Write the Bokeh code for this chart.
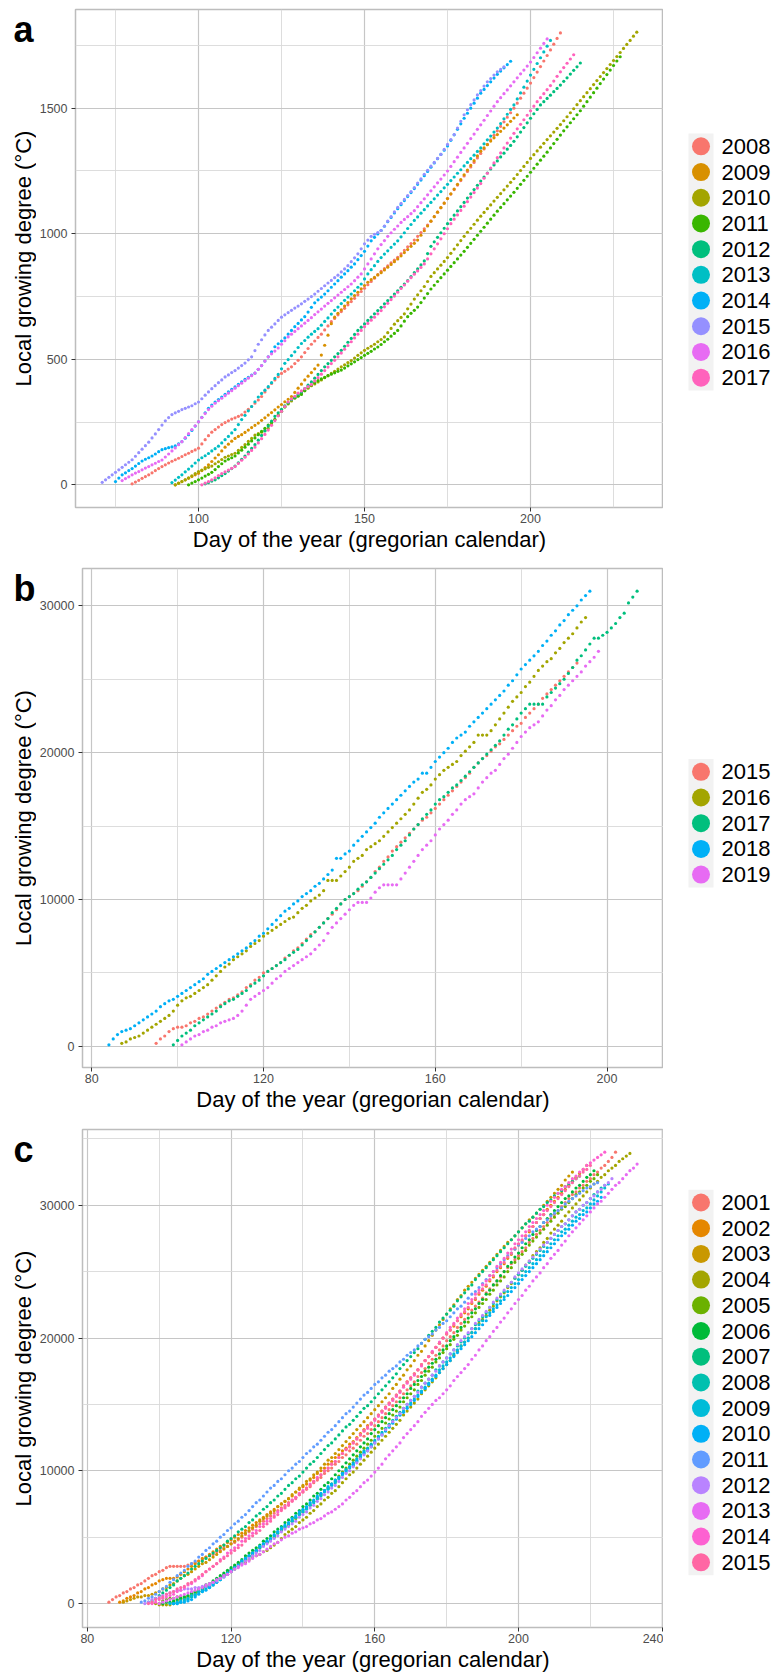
from bokeh.plotting import figure
from bokeh.layouts import row, column
from bokeh.models import Range1d, FixedTicker, BasicTickFormatter
from bokeh.core.properties import value
from bokeh.embed import file_html
from bokeh.resources import INLINE
import math

FONT = "Liberation Sans"

# ---------------- Panel a : daily cumulative GDD (degC), first day of each series ----------------
A_YEARS = ["2008", "2009", "2010", "2011", "2012", "2013", "2014", "2015", "2016", "2017"]
A_COLORS = ["#F8766D", "#D89000", "#A3A500", "#39B600", "#00BF7D", "#00BFC4", "#00B0F6", "#9590FF", "#E76BF3", "#FF62BC"]
A_STARTS = [80, 93, 93, 97, 102, 92, 75, 71, 77, 101]
A_2008 = [4,11,18,26,33,40,48,57,65,73,80,87,94,100,106,113,120,126,133,139,146,163,180,196,210,220,230,240,248,255,262,267,273,279,290,301,312,325,338,352,370,387,404,418,431,444,452,461,470,483,496,510,527,543,560,573,587,600,617,633,650,663,677,690,703,717,730,743,757,770,783,797,810,823,837,850,861,872,884,895,906,920,934,948,961,975,990,1005,1020,1035,1050,1068,1086,1104,1122,1140,1158,1176,1194,1212,1230,1248,1266,1284,1302,1320,1338,1356,1374,1392,1410,1428,1446,1464,1482,1500,1520,1540,1560,1580,1600,1622,1644,1666,1688,1710,1732,1755,1778,1800]
A_2009 = [0,7,13,20,26,33,40,46,57,69,80,93,107,120,135,150,162,174,185,193,200,209,218,228,237,246,257,267,278,288,299,310,320,331,341,352,368,385,401,418,433,447,462,477,517,556,596,642,668,683,697,712,726,741,754,767,781,794,807,817,826,836,845,856,867,878,889,900,912,925,937,950,962,975,994,1012,1031,1050,1068,1086,1104,1122,1140,1159,1178,1197,1216,1235,1254,1272,1291,1310,1329,1342,1355,1369,1382,1395,1408,1421,1434,1448,1461,1474]
A_2010 = [0,6,13,20,28,36,45,53,59,64,70,75,84,92,101,110,115,121,126,137,149,160,173,185,198,204,210,217,225,242,260,277,294,311,322,334,345,355,365,375,385,395,402,410,418,427,435,444,452,461,470,478,487,495,505,516,526,536,544,552,560,570,579,589,606,623,640,654,667,681,701,720,740,757,773,790,810,830,845,860,875,890,905,922,939,956,973,990,1006,1022,1038,1054,1070,1085,1100,1115,1130,1145,1160,1175,1190,1205,1220,1236,1252,1268,1284,1300,1315,1330,1345,1360,1375,1390,1405,1420,1435,1450,1466,1482,1498,1514,1530,1546,1562,1578,1594,1610,1626,1642,1658,1674,1690,1706,1722,1738,1754,1770,1787,1803]
A_2011 = [0,7,13,20,27,35,42,50,61,73,84,95,102,108,115,127,138,150,162,175,187,200,213,225,238,249,260,277,293,310,325,340,347,353,360,375,390,398,407,415,422,428,435,441,446,452,457,465,474,482,490,499,507,516,524,532,541,549,559,570,580,592,603,615,633,652,670,683,695,708,726,744,762,780,795,810,825,840,855,870,885,900,915,930,946,962,978,994,1010,1026,1042,1058,1074,1090,1105,1120,1135,1150,1165,1181,1197,1213,1229,1245,1261,1277,1293,1309,1325,1342,1359,1376,1393,1410,1426,1442,1458,1474,1490,1508,1526,1544,1562,1580,1598,1616,1634,1652,1670,1688,1705]
A_2012 = [4,9,15,20,28,37,45,55,65,75,88,102,115,130,145,160,178,197,215,234,254,273,287,301,315,327,339,349,360,370,383,397,410,425,440,455,470,483,496,510,523,536,552,568,583,599,615,628,641,655,668,681,694,707,721,734,747,760,773,787,800,813,829,845,860,876,892,921,950,968,986,1004,1022,1040,1057,1074,1091,1108,1125,1142,1159,1176,1193,1210,1226,1242,1258,1274,1290,1306,1321,1337,1352,1368,1386,1405,1423,1442,1460,1478,1495,1513,1526,1539,1552,1566,1579,1592,1607,1621,1636,1651,1665,1680]
A_2013 = [9,19,30,40,52,63,75,87,99,108,116,125,135,144,154,167,180,193,207,220,240,260,277,295,312,331,350,364,377,391,407,424,440,462,484,499,515,530,547,563,575,588,600,611,622,636,651,665,680,695,708,722,735,748,760,773,787,800,820,840,857,873,890,905,919,932,946,959,972,988,1004,1021,1037,1053,1067,1082,1096,1111,1125,1139,1154,1168,1183,1197,1212,1226,1241,1255,1270,1284,1299,1313,1328,1342,1358,1374,1389,1405,1421,1439,1458,1476,1495,1513,1537,1561,1584,1608,1632,1655,1678,1701,1724,1747,1770]
A_2014 = [13,27,40,48,57,65,75,85,95,102,108,115,123,132,140,144,148,151,155,163,172,186,200,217,234,251,269,287,305,318,330,340,350,360,370,380,390,400,410,420,428,437,445,460,475,493,510,530,550,562,573,585,600,615,630,643,657,670,688,707,725,737,748,760,773,787,800,813,827,840,853,867,880,897,913,930,951,972,986,999,1013,1030,1048,1065,1083,1100,1116,1132,1148,1164,1180,1197,1214,1231,1248,1265,1282,1299,1316,1333,1350,1372,1394,1416,1438,1460,1480,1500,1520,1540,1560,1575,1590,1605,1620,1635,1648,1661,1674,1687]
A_2015 = [10,20,30,40,50,60,70,80,90,100,114,128,142,156,170,187,203,220,238,255,268,280,287,293,300,305,310,315,323,330,343,357,370,383,395,407,418,430,438,447,455,465,475,485,498,510,535,560,578,597,615,628,641,655,668,677,686,695,704,712,721,731,740,750,760,771,782,793,804,814,825,835,848,860,873,889,904,920,940,960,975,990,998,1005,1013,1031,1050,1068,1087,1105,1121,1137,1152,1168,1184,1202,1219,1237,1253,1269,1284,1300,1316,1336,1356,1375,1395,1421,1448,1474,1494,1514,1533,1553,1570,1588,1605,1618,1632,1645,1655,1665]
A_2016 = [17,25,32,40,47,53,60,67,73,80,86,93,99,111,123,135,147,160,172,188,204,220,235,251,268,284,300,313,325,335,345,355,365,375,385,395,405,415,425,435,445,460,475,493,510,522,533,545,560,574,589,600,611,622,633,644,655,666,678,689,700,712,723,734,745,756,767,778,789,800,813,827,840,860,880,900,920,940,957,973,990,1004,1018,1031,1045,1057,1068,1080,1092,1108,1124,1139,1155,1171,1187,1203,1218,1234,1250,1268,1287,1305,1324,1342,1360,1379,1397,1416,1434,1452,1471,1489,1508,1526,1542,1558,1573,1589,1605,1621,1637,1652,1668,1684,1702,1721,1739,1758,1776]
A_2017 = [0,7,13,20,28,37,45,52,59,66,73,85,98,110,123,137,150,167,184,201,218,237,256,275,293,312,330,342,353,365,374,383,391,400,414,427,441,455,469,483,496,510,525,540,555,570,585,600,615,630,643,656,668,681,694,709,723,738,752,767,782,796,811,825,839,852,866,880,900,920,940,960,980,1000,1020,1040,1058,1075,1093,1110,1128,1146,1164,1182,1200,1221,1241,1262,1282,1303,1322,1342,1361,1381,1400,1418,1436,1454,1472,1490,1508,1526,1542,1558,1574,1590,1608,1627,1645,1662,1679,1696,1713]
A_VALUES = [A_2008, A_2009, A_2010, A_2011, A_2012, A_2013, A_2014, A_2015, A_2016, A_2017]
A_XTICKS, A_XMINOR = [100, 150, 200], [75, 125, 175, 225]
A_YTICKS, A_YMINOR = [0, 500, 1000, 1500], [250, 750, 1250, 1750]

# ---------------- Panel b : values in hundreds of degC ----------------
B_UNIT = 100
B_YEARS = ["2015", "2016", "2017", "2018", "2019"]
B_COLORS = ["#F8766D", "#A3A500", "#00BF7D", "#00B0F6", "#E76BF3"]
B_STARTS = [95, 87, 99, 84, 101]
B_2015 = [2,5,7,10,12,13,13,14,16,17,19,20,22,24,26,28,30,32,33,35,37,40,42,45,47,50,51,53,55,57,60,62,65,67,70,73,76,78,81,84,87,90,93,97,100,102,104,106,109,112,115,119,122,126,129,133,136,139,142,145,148,151,154,156,159,162,165,168,171,174,177,180,183,186,190,193,196,198,201,204,206,209,212,215,218,220,224,227,230,233,237,240,243,246,249,252,255,258,261]
B_2016 = [2,3,5,6,7,9,11,13,15,17,19,21,24,28,31,33,34,36,38,40,42,45,48,51,54,56,59,61,63,65,68,70,72,75,77,79,81,83,85,87,88,91,94,96,99,101,103,106,113,113,113,116,119,122,126,128,130,134,136,138,140,143,146,149,152,155,158,161,165,169,173,175,178,182,185,188,190,192,194,198,201,204,207,212,212,212,215,219,223,227,231,235,238,241,245,248,252,256,259,262,264,268,271,275,278,281,285,289,292]
B_2017 = [1,4,7,9,11,14,16,18,20,22,24,27,29,31,32,34,36,38,41,43,45,48,51,53,55,57,59,62,64,66,69,72,75,78,81,84,87,91,94,97,100,102,104,107,110,112,115,118,121,124,127,130,134,137,140,144,148,151,155,158,161,165,168,170,173,176,178,181,184,187,190,193,196,199,202,205,208,212,216,219,223,227,230,233,233,233,233,238,241,244,247,250,254,258,263,266,270,274,278,278,280,282,285,288,292,295,302,306,310]
B_2018 = [1,5,8,10,11,12,14,16,18,20,22,24,27,29,31,32,34,36,38,40,42,44,46,49,51,53,55,57,59,61,63,65,67,70,72,75,77,80,83,86,89,92,94,97,99,102,104,106,109,111,114,117,120,128,128,131,133,137,140,143,146,149,152,156,159,162,165,168,171,174,177,180,182,186,186,190,194,197,200,203,207,210,212,214,218,221,224,227,230,233,236,239,242,246,249,253,257,260,263,266,269,273,276,280,283,287,290,294,297,300,304,307,310]
B_2019 = [1,3,5,7,8,10,11,13,14,16,17,18,19,21,24,28,32,34,36,38,40,43,46,48,51,53,55,57,59,61,63,66,69,72,77,81,84,87,90,93,96,98,98,98,101,105,108,110,110,110,110,114,118,122,126,130,134,137,140,144,148,151,154,158,161,165,168,170,172,176,180,183,186,188,192,196,199,203,207,211,214,217,219,221,225,229,232,236,239,243,246,249,252,255,259,262,265,269]
B_VALUES = [B_2015, B_2016, B_2017, B_2018, B_2019]
B_XTICKS, B_XMINOR = [80, 120, 160, 200], [100, 140, 180]
B_YTICKS, B_YMINOR = [0, 10000, 20000, 30000], [5000, 15000, 25000]

# ---------------- Panel c : values in hundreds of degC ----------------
C_UNIT = 100
C_YEARS = ["2001", "2002", "2003", "2004", "2005", "2006", "2007", "2008", "2009", "2010", "2011", "2012", "2013", "2014", "2015"]
C_COLORS = ["#F8766D", "#E58700", "#C99800", "#A3A500", "#6BB100", "#00BA38", "#00BF7D", "#00C0AF", "#00BCD8", "#00B0F6", "#619CFF", "#B983FF", "#E76BF3", "#FD61D1", "#FF67A4"]
C_STARTS = [86, 89, 90, 99, 100, 101, 97, 104, 103, 104, 95, 96, 100, 98, 97]
C_2001 = [1,3,5,6,8,9,11,12,14,15,17,19,21,22,24,25,27,28,28,28,28,28,29,30,31,32,33,35,36,37,39,40,42,43,45,46,48,50,52,54,56,58,60,62,64,66,68,70,72,74,76,78,80,82,84,86,88,91,93,95,98,100,102,105,107,110,112,115,117,120,123,126,128,131,134,137,140,143,146,149,152,155,158,161,164,167,171,174,177,181,184,187,191,194,198,201,204,208,211,214,218,221,224,227,230,234,237,240,243,246,250,253,256,259,262,265,268,272,275,278,281,284,287,290,293,296,299,302,305,308,310,313,315,318,320,323,325,328,330,333,336,340]
C_2002 = [1,2,4,5,6,8,9,11,12,14,15,17,18,19,19,19,20,22,24,26,28,30,32,34,35,37,39,41,43,44,46,48,50,52,53,55,57,59,61,63,65,67,69,71,73,75,77,79,81,84,86,88,90,93,95,98,100,102,105,107,110,112,115,117,120,122,125,128,131,134,136,139,142,145,148,151,154,157,160,164,167,170,173,176,180,183,186,189,193,196,200,203,206,209,213,216,219,222,226,229,233,236,239,243,246,250,253,256,260,263,267,270,273,277,280,284,287,290,293,297,300,303,306,309,312,315,318,321,324,327,330]
C_2003 = [1,2,3,4,5,5,6,6,7,8,9,11,12,14,15,17,19,21,22,24,26,28,30,31,33,35,37,39,41,43,45,47,49,51,53,55,57,59,62,64,66,68,70,73,75,77,79,82,84,87,89,92,94,97,99,102,105,108,110,113,116,119,122,125,128,131,134,137,140,143,146,149,152,155,158,162,165,169,172,176,179,183,187,190,194,198,202,206,210,214,218,222,225,229,232,236,239,242,245,248,251,254,257,260,263,266,269,272,274,277,280,283,286,289,291,294,297,300,303,306,309,312,315,319,322,325]
C_2004 = [0,-1,-1,-1,-1,1,2,3,4,5,7,8,9,11,13,14,16,17,19,21,22,24,26,28,30,31,33,35,36,37,39,40,42,44,46,49,52,54,56,58,61,63,65,68,70,73,75,78,80,83,85,88,91,94,97,99,102,105,108,111,114,117,120,123,126,129,132,135,138,142,145,148,151,154,158,161,164,167,170,174,177,180,183,187,190,194,197,200,204,207,211,214,217,221,224,228,231,234,238,241,245,248,251,255,258,262,265,268,272,275,279,282,285,288,292,295,298,301,304,307,310,313,316,318,321,323,326,328,330,333,335,337,339]
C_2005 = [0,2,3,4,4,5,5,5,5,6,8,9,11,13,14,16,18,20,22,24,26,28,30,32,34,36,38,40,42,44,46,48,50,53,55,57,59,62,64,67,69,72,74,77,79,82,85,87,90,93,96,99,102,105,108,111,114,117,120,123,126,129,132,136,139,142,145,148,152,155,158,161,165,168,172,175,178,182,185,189,192,195,199,202,206,209,212,216,219,223,226,229,233,236,240,243,246,250,253,257,260,263,266,270,273,276,279,282,285,288,291,294,297,299,302,305,308,310,313,315,318,320,323]
C_2006 = [0,1,1,2,3,4,5,6,8,9,11,12,14,15,17,19,21,23,25,27,29,31,33,36,38,40,42,44,47,49,51,54,56,58,61,63,65,68,70,73,75,78,81,83,86,89,91,94,97,100,103,106,109,112,115,118,121,124,128,131,134,137,140,143,146,149,152,155,158,162,165,168,171,175,178,181,184,188,191,194,198,201,205,208,212,215,219,222,226,229,233,236,240,243,247,250,254,257,261,264,268,271,274,278,281,284,287,290,293,296,299,302,305,307,310,313,315,318,321,323,326]
C_2007 = [1,2,4,6,8,10,12,14,17,19,21,23,26,28,30,32,34,36,38,40,42,44,47,49,51,54,56,58,61,63,66,68,71,73,76,78,81,83,86,89,91,94,96,99,102,105,107,110,113,116,119,121,124,127,130,133,135,138,141,144,147,149,152,155,158,161,164,167,170,173,177,180,183,186,189,192,196,199,202,205,208,212,215,218,221,224,228,231,234,237,240,244,247,250,253,256,259,262,265,268,271,274,277,280,283,286,288,291,294,297,299,302,304,307,309,311,314,316,318,320,322]
C_2008 = [0,0,1,2,3,5,6,8,9,11,12,14,16,18,20,22,24,26,28,31,33,35,37,39,42,44,46,48,51,53,56,58,60,63,65,68,70,72,75,77,80,82,85,87,90,92,95,98,101,103,106,109,112,115,117,120,123,126,129,132,135,138,141,144,147,150,153,156,160,163,166,169,172,176,179,182,185,188,191,194,197,200,203,207,210,213,216,219,223,226,229,232,235,239,242,245,248,251,254,257,260,263,266,269,272,275,278,281,284,286,289,292,295,297,300,302,305,308,310,313,315]
C_2009 = [0,0,1,2,3,4,6,7,9,10,12,13,15,17,19,21,23,25,27,29,32,34,36,38,40,43,45,47,49,51,54,56,58,60,62,65,67,69,71,74,76,79,81,84,86,89,91,94,97,99,102,104,107,110,113,115,118,121,124,127,130,133,136,139,142,145,148,151,154,157,160,163,166,169,172,176,179,182,185,188,191,194,197,200,204,207,210,213,216,219,222,225,228,231,235,238,241,244,247,250,253,256,259,262,265,268,271,274,277,280,282,285,288,291,293,296,298,301,304,307,310,313,316]
C_2010 = [0,0,1,1,2,3,5,7,9,10,12,14,16,18,21,23,25,27,29,32,34,36,38,40,43,45,47,49,52,54,57,59,61,64,66,69,71,73,76,78,81,83,85,88,90,93,95,98,100,103,105,108,111,114,116,119,122,125,128,130,133,136,139,142,144,147,150,153,156,159,162,165,168,171,174,177,180,183,186,189,192,195,198,201,204,207,210,213,217,220,223,226,229,232,235,238,241,244,247,250,253,256,259,262,265,268,271,274,277,279,282,285,288,290,293,295,298,301,303,306]
C_2011 = [1,2,4,5,7,9,11,13,16,18,21,23,25,28,30,32,35,37,40,42,45,47,50,52,55,57,60,62,65,67,70,73,76,78,81,84,87,89,92,94,97,100,102,105,107,110,113,115,118,120,123,126,129,131,134,137,140,143,145,148,151,154,157,159,162,165,167,170,172,175,177,179,182,184,187,189,191,194,196,199,201,203,206,208,211,213,216,219,222,224,227,230,233,235,238,241,244,247,250,253,256,259,262,264,267,270,272,275,277,280,282,284,287,289,292,294,296,298,301,303,305,307,309,311,313,314,316,317]
C_2012 = [0,1,3,4,5,6,7,8,9,10,10,11,11,11,12,12,13,13,14,16,17,19,20,22,24,26,28,30,32,34,36,38,40,43,45,47,49,51,54,56,58,60,62,65,67,69,72,74,77,79,82,84,87,89,92,95,98,100,103,106,109,112,115,118,121,124,127,131,134,137,140,143,147,150,153,156,159,163,166,169,172,175,179,182,185,188,191,195,198,201,204,207,211,214,217,220,223,227,230,233,236,239,242,246,249,252,255,258,261,264,267,270,272,275,278,281,284,286,289,292,295,297,300,302,305,307,310,312,315,317,320]
C_2013 = [0,1,2,3,4,5,6,7,8,9,10,11,12,14,15,16,18,19,21,22,24,26,27,29,30,32,34,36,37,39,41,43,45,46,48,50,51,53,54,56,57,58,60,61,63,64,66,68,69,71,73,75,78,80,83,85,88,91,93,96,99,102,105,109,112,115,118,121,125,128,131,134,137,141,144,147,150,153,155,158,161,164,168,171,174,177,180,184,187,191,194,198,201,205,208,212,215,219,222,226,229,232,236,239,243,246,249,253,256,260,263,266,270,273,277,280,283,286,289,292,295,298,301,303,306,309,312,315,317,320,323,326,328,331]
C_2014 = [0,1,3,4,5,6,7,9,10,12,14,15,17,19,21,24,26,28,30,33,35,38,40,42,44,47,49,51,53,55,58,60,62,64,66,69,71,73,75,78,80,83,85,87,90,92,95,97,100,102,105,107,110,113,116,118,121,124,127,130,132,135,138,141,144,147,150,153,156,159,163,166,169,172,176,179,183,186,190,193,197,200,204,208,211,215,218,222,226,229,233,236,240,243,247,250,254,257,260,264,267,271,274,277,280,284,287,290,293,296,300,303,306,309,312,314,317,320,322,325,327,330,332,334,336,338,340]
C_2015 = [0,1,3,4,5,7,8,9,11,12,13,15,16,18,20,22,24,26,28,30,32,34,36,38,40,42,44,47,49,51,53,55,58,60,62,65,67,70,72,74,77,79,82,84,87,89,92,94,97,100,102,105,107,110,113,116,118,121,124,127,130,133,136,139,142,145,148,151,154,157,160,164,167,170,173,176,180,183,186,189,193,196,200,203,206,210,213,217,220,223,227,230,234,237,240,244,247,251,254,257,261,264,268,271,274,277,281,284,287,290,293,296,299,302,305,308,311,314,317,320,322,325,327,330]
C_VALUES = [C_2001, C_2002, C_2003, C_2004, C_2005, C_2006, C_2007, C_2008, C_2009, C_2010, C_2011, C_2012, C_2013, C_2014, C_2015]
C_XTICKS, C_XMINOR = [80, 120, 160, 200, 240], [100, 140, 180, 220]
C_YTICKS, C_YMINOR = [0, 10000, 20000, 30000], [5000, 15000, 25000, 35000]

X_LABEL = "Day of the year (gregorian calendar)"
Y_LABEL = "Local growing degree (°C)"

STRIP_W = 36
MAIN_W = 663 - STRIP_W
LEG_W = 113


def side_fig(width, top, bottom, height):
    """Helper figure whose frame matches the main frame's vertical extent; y in figure pixels from top."""
    s = figure(width=width, height=height, x_range=Range1d(0, width), y_range=Range1d(height - bottom, top),
               output_backend="svg", toolbar_location=None, x_axis_type=None, y_axis_type=None,
               min_border_left=0, min_border_right=0, min_border_top=top, min_border_bottom=bottom)
    s.outline_line_color = None
    s.background_fill_color = "white"
    s.border_fill_color = "white"
    return s


def strip_fig(letter, top, bottom, height):
    s = side_fig(STRIP_W, top, bottom, height)
    frame_h = height - top - bottom
    s.text(x=[13], y=[top + 20], text=[letter], text_font=value(FONT), text_font_style="bold",
           text_font_size="36px", text_baseline="middle", text_align="left", text_color="black")
    s.text(x=[22.5], y=[top + frame_h / 2], text=[Y_LABEL], angle=math.pi / 2, text_font=value(FONT),
           text_font_size="22px", text_baseline="middle", text_align="center", text_color="black")
    return s


def main_fig(starts, values, colors, unit, xt, xm, yt, ym, left, top, bottom, height):
    x_lo = min(starts)
    x_hi = max(s + len(v) - 1 for s, v in zip(starts, values))
    y_lo = min(min(v) for v in values) * unit
    y_hi = max(max(v) for v in values) * unit
    dx = (x_hi - x_lo) * 0.05
    dy = (y_hi - y_lo) * 0.05
    p = figure(width=MAIN_W, height=height,
               x_range=Range1d(x_lo - dx, x_hi + dx), y_range=Range1d(y_lo - dy, y_hi + dy),
               output_backend="svg", toolbar_location=None,
               min_border_left=left - STRIP_W, min_border_right=0, min_border_top=top, min_border_bottom=bottom)
    p.background_fill_color = "white"
    p.border_fill_color = "white"
    p.outline_line_color = "#BDBDBD"
    p.outline_line_width = 1.5
    for s, v, c in zip(starts, values, colors):
        days = list(range(s, s + len(v)))
        p.scatter(days, [u * unit for u in v], size=3.2, fill_color=c, line_color=None)
    xtk = FixedTicker(ticks=xt, minor_ticks=xm)
    ytk = FixedTicker(ticks=yt, minor_ticks=ym)
    p.xaxis.ticker = xtk
    p.yaxis.ticker = ytk
    p.xgrid.ticker = xtk
    p.ygrid.ticker = ytk
    for g in (p.xgrid, p.ygrid):
        g.grid_line_color = "#C6C6C6"
        g.grid_line_width = 1.2
        g.minor_grid_line_color = "#D9D9D9"
        g.minor_grid_line_width = 0.9
    p.xaxis.axis_label = X_LABEL
    for ax in p.axis:
        ax.formatter = BasicTickFormatter(use_scientific=False)
        ax.axis_line_color = None
        ax.major_tick_line_color = "#333333"
        ax.major_tick_line_width = 1
        ax.major_tick_out = 4
        ax.major_tick_in = 0
        ax.minor_tick_line_color = None
        ax.major_label_text_font = FONT
        ax.major_label_text_font_size = "12.5px"
        ax.major_label_text_color = "#4D4D4D"
        ax.axis_label_text_font = FONT
        ax.axis_label_text_font_size = "22px"
        ax.axis_label_text_font_style = "normal"
        ax.axis_label_text_color = "black"
    p.xaxis.major_label_standoff = 2
    p.xaxis.axis_label_standoff = 1
    p.yaxis.major_label_standoff = 4
    return p


def legend_fig(names, colors, top, bottom, height, center_y):
    q = side_fig(LEG_W, top, bottom, height)
    n = len(names)
    step = 25.7
    ys = [center_y + (i - (n - 1) / 2) * step for i in range(n)]
    q.quad(left=[25], right=[50], top=[ys[0] - step / 2], bottom=[ys[-1] + step / 2],
           fill_color="#F2F2F2", line_color=None)
    q.scatter(x=[37.5] * n, y=ys, size=18, fill_color=colors, line_color=None)
    q.text(x=[58] * n, y=ys, text=names, text_font=value(FONT), text_font_size="22px",
           text_baseline="middle", text_align="left", text_color="black")
    return q


sa = strip_fig("a", 9, 48, 555)
pa = main_fig(A_STARTS, A_VALUES, A_COLORS, 1, A_XTICKS, A_XMINOR, A_YTICKS, A_YMINOR, 74, 9, 48, 555)
la = legend_fig(A_YEARS, A_COLORS, 9, 48, 555, 261.5)
sb = strip_fig("b", 13, 48, 560)
pb = main_fig(B_STARTS, B_VALUES, B_COLORS, B_UNIT, B_XTICKS, B_XMINOR, B_YTICKS, B_YMINOR, 82, 13, 48, 560)
lb = legend_fig(B_YEARS, B_COLORS, 13, 48, 560, 267.7)
sc = strip_fig("c", 14, 47, 559)
pc = main_fig(C_STARTS, C_VALUES, C_COLORS, C_UNIT, C_XTICKS, C_XMINOR, C_YTICKS, C_YMINOR, 82, 14, 47, 559)
lc = legend_fig(C_YEARS, C_COLORS, 14, 47, 559, 266.9)

layout = column(row(sa, pa, la), row(sb, pb, lb), row(sc, pc, lc))
open("out.html", "w").write(file_html(layout, INLINE, "Growing degree"))
